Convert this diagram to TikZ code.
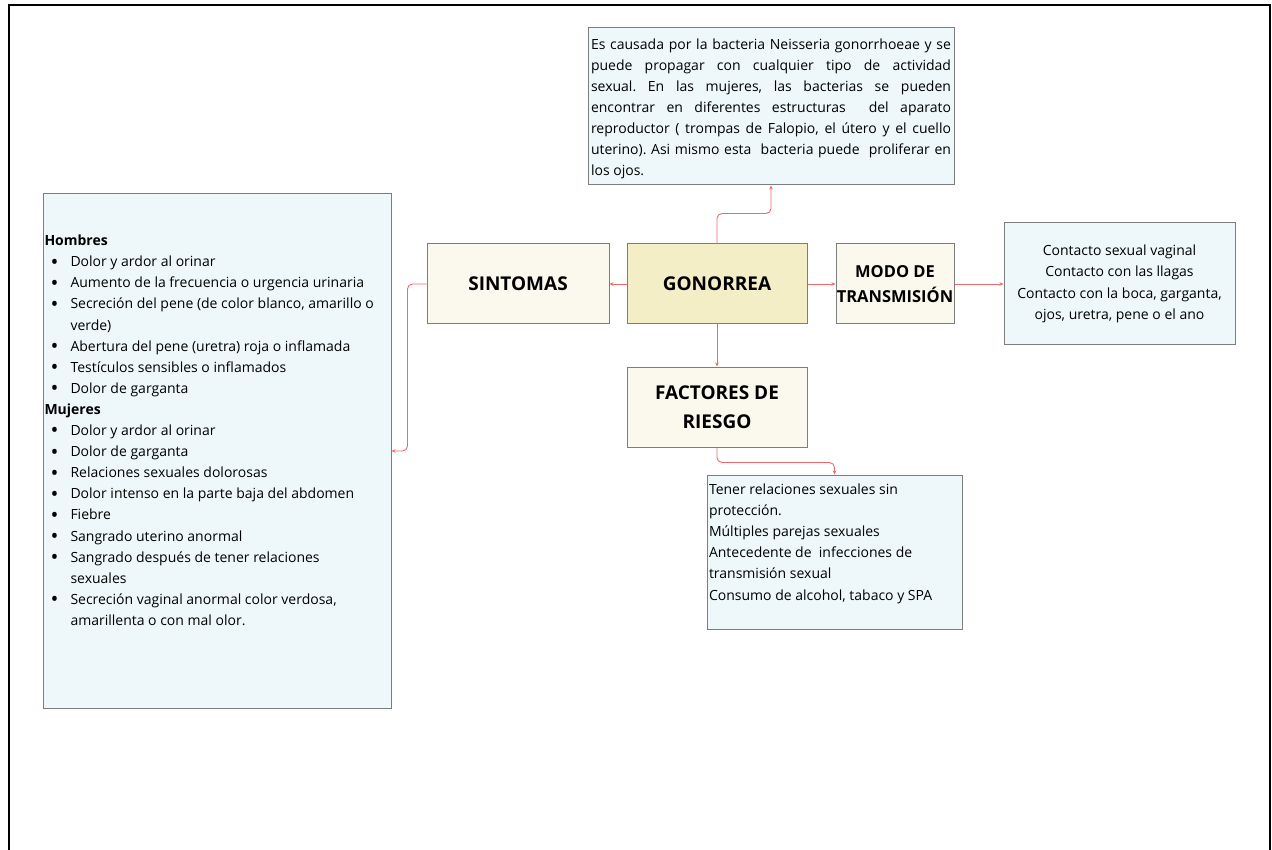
\documentclass[tikz,border=0pt]{standalone}
\usepackage{fontspec}
\setmainfont{Open Sans}
\usepackage{enumitem}
\usetikzlibrary{positioning,arrows.meta}

\definecolor{boxline}{RGB}{125,125,125}
\definecolor{bluefill}{RGB}{238,248,251}
\definecolor{creamfill}{RGB}{251,249,238}
\definecolor{goldfill}{RGB}{243,238,198}
\definecolor{linkred}{RGB}{242,105,105}
\newcommand{\bigbullet}{\raisebox{-2.4pt}{\scalebox{1.5}{\textbullet}}}
\frenchspacing

\begin{document}
\begin{tikzpicture}
  [
  x=1pt, y=-1pt,
  infobox/.style={rectangle,draw=boxline,fill=bluefill,line width=1pt,inner sep=0pt},
  headbox/.style={rectangle,draw=boxline,fill=creamfill,line width=1pt,align=center,
    minimum width=180pt,minimum height=80pt,inner sep=0pt,
    font=\fontsize{19}{29}\selectfont\bfseries},
  link/.style={draw=linkred,line width=0.9pt,rounded corners=5pt,
    -{Stealth[length=4pt,width=3.5pt]}}
  ]
  \useasboundingbox (0,0) rectangle (1272,850);

  % page frame
  \draw [line width=1.3pt] (9,5) -- (1270,5);
  \draw [line width=2pt] (9,850) -- (9,5) -- (22,5);
  \draw [line width=2pt] (1254,5) -- (1270,5) -- (1270,850);

  % centre and headings
  \node (gon)  [headbox,fill=goldfill] at (717,284) {GONORREA};
  \node (sint) [headbox,left=17pt of gon,minimum width=182pt] {SINTOMAS};
  \node (modo) [headbox,right=28pt of gon,minimum width=118pt,
    font=\fontsize{16.5}{25}\selectfont\bfseries] {MODO DE\\TRANSMISIÓN};
  \node (fact) [headbox,below=42pt of gon] {FACTORES DE\\RIESGO};

  % text boxes
  \node (causa) [infobox,inner xsep=3pt] at (771,106.5) {%
    \begin{minipage}[c][157pt][t]{360pt}
      \fontsize{14}{21}\selectfont\vspace*{11pt}%
      Es causada por la bacteria Neisseria gonorrhoeae y se\linebreak
      puede propagar con cualquier tipo de actividad\linebreak
      sexual. En las mujeres, las bacterias se pueden\linebreak
      encontrar en diferentes estructuras \ del aparato\linebreak
      reproductor ( trompas de Falopio, el útero y el cuello\linebreak
      uterino). Asi mismo esta \ bacteria puede \ proliferar en\linebreak
      los ojos.
    \end{minipage}};
  \node (lista) [infobox,inner xsep=1.5pt] at (217,451) {%
    \begin{minipage}[c][514pt][t]{345pt}
      \fontsize{14}{21.1}\selectfont\raggedright\vspace*{41pt}%
      \textbf{Hombres}
      \begin{itemize}[nosep,leftmargin=26pt,labelsep=12pt,label=\bigbullet]
        \item Dolor y ardor al orinar
        \item Aumento de la frecuencia o urgencia urinaria
        \item Secreción del pene (de color blanco, amarillo o\newline verde)
        \item Abertura del pene (uretra) roja o inflamada
        \item Testículos sensibles o inflamados
        \item Dolor de garganta
      \end{itemize}
      \textbf{Mujeres}
      \begin{itemize}[nosep,leftmargin=26pt,labelsep=12pt,label=\bigbullet]
        \item Dolor y ardor al orinar
        \item Dolor de garganta
        \item Relaciones sexuales dolorosas
        \item Dolor intenso en la parte baja del abdomen
        \item Fiebre
        \item Sangrado uterino anormal
        \item Sangrado después de tener relaciones\newline sexuales
        \item Secreción vaginal anormal color verdosa,\newline amarillenta o con mal olor.
      \end{itemize}
    \end{minipage}};
  \node (trans) [infobox,right=49pt of modo,minimum width=231pt,minimum height=122pt,
    align=center,font=\fontsize{14}{21.5}\selectfont] {
    Contacto sexual vaginal\\
    Contacto con las llagas\\
    Contacto con la boca, garganta,\\
    ojos, uretra, pene o el ano
  };
  \node (riesgo) [infobox,inner xsep=2pt] at (834.5,552) {%
    \begin{minipage}[c][154pt][t]{251pt}
      \fontsize{14}{21.2}\selectfont\raggedright\vspace*{8.5pt}%
      Tener relaciones sexuales sin\\
      protección.\\
      Múltiples parejas sexuales\\
      Antecedente de \ infecciones de\\
      transmisión sexual\\
      Consumo de alcohol, tabaco y SPA
    \end{minipage}};

  % connectors
  \draw [link] (gon.west)  -- (sint.east);
  \draw [link] (gon.east)  -- (modo.west);
  \draw [link] (gon.south) -- (fact.north);
  \draw [link] (modo.east) -- (trans.west);
  \draw [link] (gon.north) -- ++(0,-30) -| (causa.south);
  \draw [link] (sint.west) -- ++(-19,0) |- (lista.east);
  \draw [link] (fact.south) -- ++(0,15) -| (riesgo.north);
\end{tikzpicture}
\end{document}
